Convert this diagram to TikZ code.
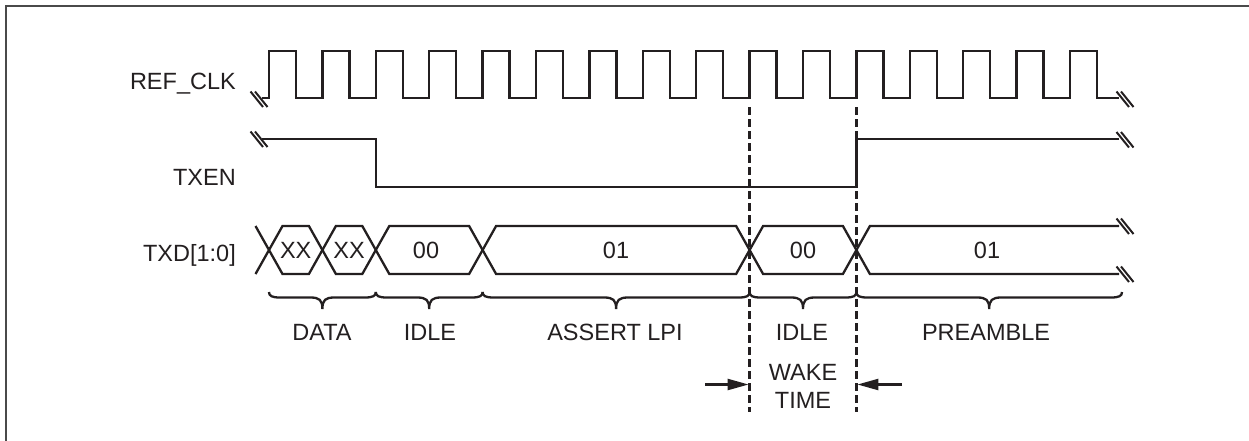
\documentclass[tikz,border=0pt]{standalone}
\usepackage{fontspec}
\setmainfont{Liberation Sans}
\usetikzlibrary{arrows.meta}
\definecolor{ink}{HTML}{231F20}
\definecolor{framec}{HTML}{4A4A4A}
% underbrace from x=#1 to x=#2
\newcommand\lpbrace[2]{%
  \draw[sig] (#1,292) .. controls (#1,296) and (#1+3,297.5) .. (#1+11,297.5)
    -- ({(#1+#2)/2-12},297.5) .. controls ({(#1+#2)/2-3},297.5) and ({(#1+#2)/2},300) .. ({(#1+#2)/2},309)
    .. controls ({(#1+#2)/2},300) and ({(#1+#2)/2+3},297.5) .. ({(#1+#2)/2+12},297.5)
    -- (#2-11,297.5) .. controls (#2-3,297.5) and (#2,296) .. (#2,292);}
\newcommand\brkmark[2]{%
  \draw[sig,line width=2pt] (#1-8.5,#2-8) -- (#1+4,#2+7.5) (#1-4,#2-8) -- (#1+8.5,#2+7.5);}
\begin{document}
\begin{tikzpicture}[x=1pt,y=-1pt,
  sig/.style={draw=ink,line width=2.3pt,line join=miter},
  lbl/.style={text=ink,inner sep=0pt,font=\fontsize{23.5}{28.2}\selectfont},
  dashline/.style={draw=ink,line width=2.3pt,dash pattern=on 8pt off 4pt},
  warrow/.style={draw=ink,line width=2.3pt,-{Triangle[length=21pt,width=11pt]}}]
\useasboundingbox (0,0) rectangle (1249,440);
% frame (only top and left visible)
\draw[framec,line width=2.2pt] (6,442) -- (6,6) -- (1251,6);

% crossing / clock edge positions
\coordinate (c0) at (269,250);
\coordinate (c1) at (322.4,250);
\coordinate (c2) at (375.8,250);
\coordinate (c3) at (482.6,250);
\coordinate (c4) at (749.6,250);
\coordinate (c5) at (856.4,250);

% signal names
\node[lbl,anchor=base east] (lclk) at (236,89.5) {REF\_CLK};
\node[lbl,anchor=base east] (ltxen) at (236,185) {TXEN};
\node[lbl,anchor=base east] (ltxd) at (236,261) {TXD[1:0]};

% REF_CLK
\draw[sig] (262,98) \foreach \k in {0,...,15}{
   -- ({269+53.4*\k},98) -- ({269+53.4*\k},51) -- ({296+53.4*\k},51) -- ({296+53.4*\k},98)} -- (1119,98);
\brkmark{259}{99.5}
\brkmark{1125}{99.5}

% TXEN
\draw[sig] (262,139) -- (375.8,139) -- (375.8,187) -- (856.4,187) -- (856.4,139) -- (1119,139);
\brkmark{259}{139.5}
\brkmark{1125}{140}

% TXD
\def\h{13.5}
\draw[sig] (269-\h,226) -- (269,250) -- (269-\h,274);
\foreach \a/\b in {269/322.4, 322.4/375.8, 375.8/482.6, 482.6/749.6, 749.6/856.4}{
  \draw[sig] (\a,250) -- (\a+\h,226) -- (\b-\h,226) -- (\b,250) -- (\b-\h,274) -- (\a+\h,274) -- cycle;}
\draw[sig] (1119,226) -- (856.4+\h,226) -- (856.4,250) -- (856.4+\h,274) -- (1119,274);
\brkmark{1125}{226.5}
\brkmark{1125}{274.5}

\node[lbl,anchor=base] (dxx1) at (295.7,258) {XX};
\node[lbl,anchor=base] (dxx2) at (349.1,258) {XX};
\node[lbl,anchor=base] (d00a) at (426,258) {00};
\node[lbl,anchor=base] (d01a) at (616,258) {01};
\node[lbl,anchor=base] (d00b) at (803,258) {00};
\node[lbl,anchor=base] (d01b) at (987,258) {01};

% dashed markers
\coordinate (m1t) at (749.6,107);
\coordinate (m1b) at (749.6,412);
\coordinate (m2t) at (856.4,107);
\coordinate (m2b) at (856.4,412);
\draw[dashline] (m1t) -- (m1b);
\draw[dashline] (m2t) -- (m2b);

% braces
\lpbrace{269}{375.8}
\lpbrace{375.8}{482.6}
\lpbrace{482.6}{749.6}
\lpbrace{749.6}{856.4}
\lpbrace{856.4}{1122}

\node[lbl,anchor=base] (bdata) at (322,340) {DATA};
\node[lbl,anchor=base] (bidle1) at (430,340) {IDLE};
\node[lbl,anchor=base] (blpi) at (615,340) {ASSERT LPI};
\node[lbl,anchor=base] (bidle2) at (802,340) {IDLE};
\node[lbl,anchor=base] (bpre) at (986,340) {PREAMBLE};

% wake time
\node[lbl,anchor=base] (wake) at (803,380) {WAKE};
\node[lbl,anchor=base] (wtime) at (803,408) {TIME};
\coordinate (wl0) at (705,384.5);
\coordinate (wl1) at (748.6,384.5);
\coordinate (wr0) at (902,384.5);
\coordinate (wr1) at (857.4,384.5);
\draw[warrow] (wl0) -- (wl1);
\draw[warrow] (wr0) -- (wr1);
\end{tikzpicture}
\end{document}
